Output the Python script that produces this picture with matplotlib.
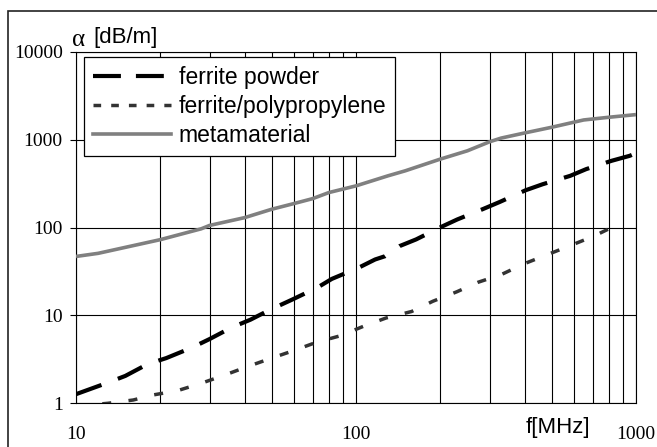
import matplotlib
matplotlib.use("Agg")
import matplotlib.pyplot as plt
from matplotlib.lines import Line2D
from matplotlib.patches import Rectangle
from matplotlib.ticker import LogLocator, NullFormatter

# frequency [MHz] / attenuation [dB/m]
meta_f = [10, 12, 20, 28, 30, 40, 50, 60, 70, 80, 100, 130, 150, 200, 250,
          300, 330, 400, 500, 650, 800, 1000]
meta_a = [47, 51, 73, 97, 106, 130, 162, 188, 214, 251, 299, 389, 444, 603,
          750, 950, 1047, 1197, 1390, 1683, 1807, 1937]

powder_f = [10, 13, 15, 18, 21, 26, 30, 36, 42, 49, 59, 73, 82, 102, 117,
            127, 143, 164, 201, 230, 283, 326, 404, 464, 582, 664, 818, 950,
            1000]
powder_a = [1.27, 1.72, 2.05, 2.79, 3.27, 4.32, 5.39, 7.31, 8.96, 11.5, 15.1,
            20.9, 26.1, 34.9, 43.4, 47.3, 61.6, 73.5, 101.6, 124, 162, 196,
            267, 312, 389, 464, 577, 658, 706]

poly_f = [10, 13, 16, 19, 23, 28, 34, 41, 49, 60, 72, 88, 106, 128, 158, 188,
          229, 273, 330, 401, 484, 588, 708, 863, 900]
poly_a = [0.93, 1.0, 1.09, 1.25, 1.39, 1.69, 2.1, 2.62, 3.2, 3.99, 4.93, 5.88,
          7.5, 9.36, 11.1, 14.5, 18.6, 23.9, 29.2, 39.1, 49.5, 63.2, 80.2, 109,
          117]

labels = ["ferrite powder", "ferrite/polypropylene", "metamaterial"]
y_ticks = [1, 10, 100, 1000, 10000]
x_ticks = [10, 100, 1000]

W, H = 657, 447
fig = plt.figure(figsize=(W / 100, H / 100), dpi=100)
ax = fig.add_axes([76 / W, 1 - 403.3 / H, 560 / W, 351.3 / H])

ax.set_xscale("log")
ax.set_yscale("log")
ax.set_xlim(10, 1000)
ax.set_ylim(1, 10000)

ax.plot(powder_f, powder_a, color="black", lw=3, dashes=(6.5, 4.2),
        dash_capstyle="butt", zorder=4)
ax.plot(poly_f, poly_a, color="#333333", lw=2.5, dashes=(2.6, 5.0),
        dash_capstyle="butt", zorder=4)
ax.plot(meta_f, meta_a, color="#808080", lw=2.6, solid_capstyle="butt",
        zorder=3)

# grid: every decade horizontally, every minor step vertically
ax.xaxis.set_minor_locator(LogLocator(base=10, subs=range(2, 10)))
ax.xaxis.set_minor_formatter(NullFormatter())
ax.yaxis.set_minor_locator(plt.NullLocator())
ax.grid(which="major", axis="y", color="black", lw=0.8)
ax.grid(which="both", axis="x", color="black", lw=0.8)

ax.set_yticks(y_ticks, [str(v) for v in y_ticks])
ax.set_xticks(x_ticks, [str(v) for v in x_ticks])
ax.tick_params(axis="y", which="major", direction="out", length=4.5,
               width=0.8, pad=5, labelsize=14)
ax.tick_params(axis="x", which="both", length=0, pad=16, labelsize=14)
for lab in ax.get_xticklabels() + ax.get_yticklabels():
    lab.set_family("Liberation Serif")
for sp in ax.spines.values():
    sp.set_linewidth(0.8)

# axis titles
fig.text(72 / W, 1 - 40 / H, "α", family="Liberation Serif", fontsize=18,
         va="center", ha="left")
fig.text(93 / W, 1 - 38 / H, "[dB/m]", family="Liberation Sans", fontsize=16,
         va="center", ha="left")
fig.text(558 / W, 1 - 427 / H, "f[MHz]", family="Liberation Sans",
         fontsize=16, va="center", ha="center")

handles = [
    Line2D([], [], color="black", lw=3, dashes=(6.7, 3.6)),
    Line2D([], [], color="#333333", lw=2.5, dashes=(2.2, 2.9)),
    Line2D([], [], color="#808080", lw=2.6),
]
leg = ax.legend(handles, labels, loc="upper left",
                bbox_to_anchor=(8 / 560, 1 - 5 / 351.3), borderaxespad=0,
                fancybox=False, framealpha=1, edgecolor="black",
                prop={"family": "Liberation Sans", "size": 16.5},
                handlelength=3.4, handletextpad=0.35, labelspacing=0.27,
                borderpad=0.38)
leg.get_frame().set_linewidth(0.9)
leg.set_zorder(6)

# outer border of the original figure
fig.add_artist(Rectangle((8 / W, -0.1), 1.2, 1 - 11 / H + 0.1,
                         transform=fig.transFigure, fill=False,
                         edgecolor="#222222", lw=1.2))

fig.savefig("out.png", dpi=100)
